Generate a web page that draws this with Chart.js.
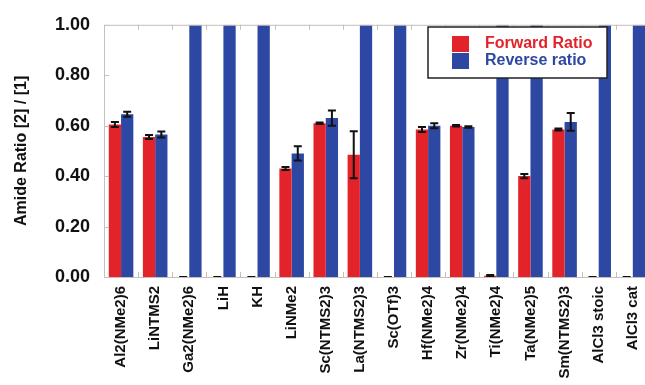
<!DOCTYPE html>
<html>
<head>
<meta charset="utf-8">
<script src="https://cdn.jsdelivr.net/npm/chart.js@4.4.1/dist/chart.umd.min.js"></script>
<style>
  html, body { margin: 0; padding: 0; background: #fff; overflow: hidden; }
  #wrap { width: 660px; height: 385px; }
</style>
</head>
<body>
<div id="wrap"><canvas id="chart" width="660" height="385"></canvas></div>
<script>
// Amide ratio for each reagent, forward and reverse direction
const categories = [
  'Al2(NMe2)6', 'LiNTMS2', 'Ga2(NMe2)6', 'LiH', 'KH', 'LiNMe2', 'Sc(NTMS2)3',
  'La(NTMS2)3', 'Sc(OTf)3', 'Hf(NMe2)4', 'Zr(NMe2)4', 'Ti(NMe2)4', 'Ta(NMe2)5',
  'Sm(NTMS2)3', 'AlCl3 stoic', 'AlCl3 cat'
];
const forwardRatio = [0.605, 0.555, 0, 0, 0, 0.43, 0.61, 0.485, 0, 0.585, 0.60, 0.005, 0.40, 0.585, 0, 0];
const forwardError = [0.01, 0.008, 0, 0, 0, 0.006, 0.003, 0.093, 0, 0.01, 0.003, 0.003, 0.008, 0.004, 0, 0];
const reverseRatio = [0.645, 0.565, 1, 1, 1, 0.49, 0.63, 1, 1, 0.60, 0.595, 1, 1, 0.615, 1, 1];
const reverseError = [0.01, 0.012, null, null, null, 0.028, 0.03, null, null, 0.01, 0.003, null, null, 0.035, null, null];
const yTicks = [0, 0.2, 0.4, 0.6, 0.8, 1.0];
const seriesNames = ['Forward Ratio', 'Reverse ratio'];

const RED = '#e3232a';
const BLUE = '#2c48a3';
const FRAME = '#c8bfba';
const FONT = 'Arial, "Liberation Sans", sans-serif';

// error bars: vertical whisker with caps, drawn from the y scale
const errorBars = {
  id: 'errorBars',
  afterDatasetsDraw(chart) {
    const ctx = chart.ctx;
    const y = chart.scales.y;
    const errs = [forwardError, reverseError];
    ctx.save();
    ctx.strokeStyle = '#111';
    ctx.lineWidth = 2;
    chart.data.datasets.forEach((ds, di) => {
      const meta = chart.getDatasetMeta(di);
      meta.data.forEach((bar, i) => {
        const e = errs[di][i];
        if (e === null || e === undefined) return;
        const v = ds.data[i];
        const yHi = y.getPixelForValue(v + e);
        const yLo = y.getPixelForValue(Math.max(0, v - e));
        const x = bar.x;
        const cap = 4;
        ctx.beginPath();
        ctx.moveTo(x, yHi); ctx.lineTo(x, yLo);
        ctx.moveTo(x - cap, yHi); ctx.lineTo(x + cap, yHi);
        ctx.moveTo(x - cap, yLo); ctx.lineTo(x + cap, yLo);
        ctx.stroke();
      });
    });
    ctx.restore();
  }
};

// plot frame with short inward tick marks
const frame = {
  id: 'frame',
  afterDatasetsDraw(chart) {
    const { ctx, chartArea: a, scales } = chart;
    ctx.save();
    ctx.strokeStyle = FRAME;
    ctx.lineWidth = 1;
    ctx.strokeRect(a.left + 0.5, a.top + 0.5, a.right - a.left, a.bottom - a.top);
    ctx.beginPath();
    yTicks.forEach(t => {
      const py = Math.round(scales.y.getPixelForValue(t)) + 0.5;
      ctx.moveTo(a.left, py); ctx.lineTo(a.left + 5, py);
    });
    const n = categories.length;
    const step = (a.right - a.left) / n;
    for (let i = 1; i < n; i++) {
      const px = Math.round(scales.x.getPixelForValue(i) - step / 2) + 0.5;
      ctx.moveTo(px, a.top); ctx.lineTo(px, a.top + 5);
      ctx.moveTo(px, a.bottom); ctx.lineTo(px, a.bottom - 5);
    }
    ctx.stroke();
    ctx.restore();
  }
};

// boxed legend inside the plot
const boxLegend = {
  id: 'boxLegend',
  afterDraw(chart) {
    const ctx = chart.ctx;
    const bx = 428, by = 27, bw = 179, bh = 51;
    ctx.save();
    ctx.fillStyle = '#fff';
    ctx.fillRect(bx, by, bw, bh);
    ctx.strokeStyle = '#222';
    ctx.lineWidth = 1.5;
    ctx.strokeRect(bx, by, bw, bh);
    const colors = [RED, BLUE];
    ctx.font = 'bold 16px ' + FONT;
    ctx.textBaseline = 'middle';
    seriesNames.forEach((name, i) => {
      const cy = by + 17 + i * 17;
      ctx.fillStyle = colors[i];
      ctx.fillRect(bx + 24, cy - 8, 17, 16);
      ctx.fillText(name, bx + 57, cy);
    });
    ctx.restore();
  }
};

new Chart(document.getElementById('chart'), {
  type: 'bar',
  data: {
    labels: categories,
    datasets: [
      { label: seriesNames[0], data: forwardRatio, backgroundColor: RED },
      { label: seriesNames[1], data: reverseRatio, backgroundColor: BLUE }
    ]
  },
  options: {
    responsive: false,
    animation: false,
    layout: { padding: { left: 0, top: 24, right: 6, bottom: 0 } },
    datasets: { bar: { categoryPercentage: 0.72, barPercentage: 1.0 } },
    plugins: { legend: { display: false }, tooltip: { enabled: false } },
    scales: {
      x: {
        grid: { display: false, drawTicks: false },
        border: { display: false },
        ticks: {
          color: '#111', font: { family: FONT, size: 15, weight: 'bold' },
          minRotation: 90, maxRotation: 90, padding: 9, autoSkip: false
        },
        afterFit(s) { s.height = 108; }
      },
      y: {
        min: 0, max: 1,
        grid: { display: false, drawTicks: false },
        border: { display: false },
        afterBuildTicks(s) { s.ticks = yTicks.map(v => ({ value: v })); },
        ticks: {
          color: '#111', font: { family: FONT, size: 18, weight: 'bold' },
          padding: 14,
          callback: v => Number(v).toFixed(2)
        },
        title: {
          display: true, text: 'Amide Ratio [2] / [1]', color: '#111',
          font: { family: FONT, size: 16, weight: 'bold' },
          padding: { top: 12, bottom: 0 }
        },
        afterFit(s) { s.width = 104; }
      }
    }
  },
  plugins: [errorBars, frame, boxLegend]
});
</script>
</body>
</html>
